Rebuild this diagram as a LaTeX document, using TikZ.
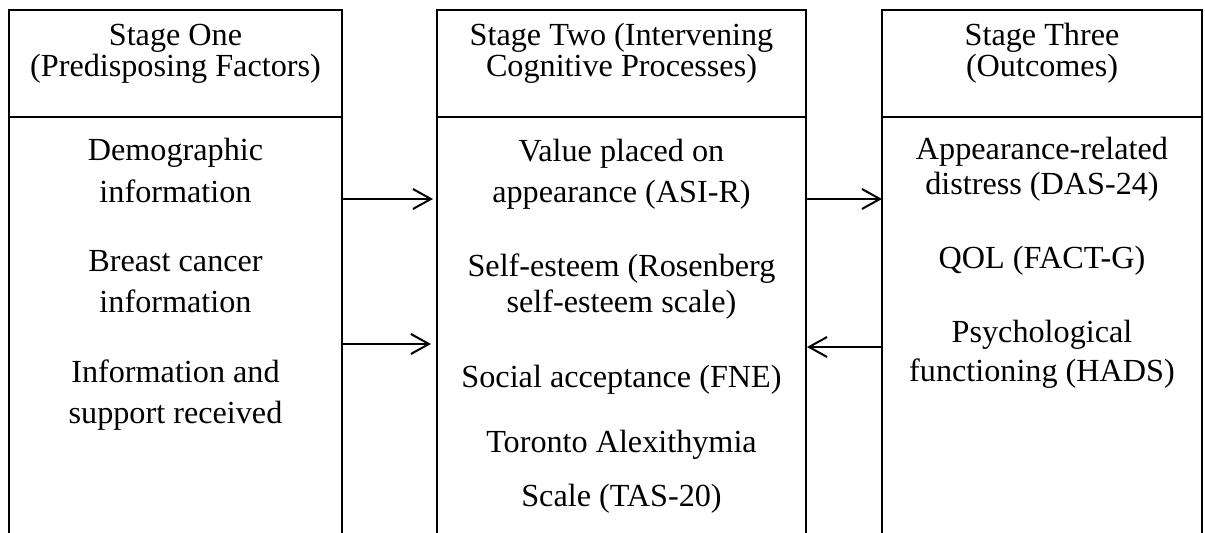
\documentclass[tikz,border=0pt]{standalone}
\usepackage{fontspec}
\setmainfont{Liberation Serif}
\usetikzlibrary{arrows.meta}
\begin{document}
\begin{tikzpicture}[x=0.5pt,y=-0.5pt,
  frame/.style={line width=0.65pt,black},
  txt/.style={anchor=base,inner sep=0pt,font=\fontsize{16.1}{18}\selectfont},
  head/.style={anchor=base,inner sep=0pt,align=center,font=\fontsize{16.1}{14}\selectfont},
  flow/.style={line width=1pt,-{Straight Barb[length=9pt,width=10pt,line width=1pt]}}]
\useasboundingbox (0,0) rectangle (1205,533);

% three open-bottomed columns with a header strip
\coordinate (b1tl) at (9,10);   \coordinate (b1tr) at (342,10);
\coordinate (b2tl) at (437,10); \coordinate (b2tr) at (806,10);
\coordinate (b3tl) at (882,10); \coordinate (b3tr) at (1202,10);
\draw[frame] (9,533) -- (b1tl) -- (b1tr) -- (342,533);
\draw[frame] (437,533) -- (b2tl) -- (b2tr) -- (806,533);
\draw[frame] (882,533) -- (b3tl) -- (b3tr) -- (1202,533);
\draw[frame] (9,117) -- (342,117);
\draw[frame] (437,117) -- (806,117);
\draw[frame] (882,117) -- (1202,117);

% stage one (header anchored at its last baseline)
\node[head] (h1) at (175.5,77) {Stage One\\(Predisposing Factors)};
\node[txt] (s1a) at (175.5,161) {Demographic};
\node[txt] (s1b) at (175.5,203) {information};
\node[txt] (s1c) at (175.5,272) {Breast cancer};
\node[txt] (s1d) at (175.5,313) {information};
\node[txt] (s1e) at (175.5,383) {Information and};
\node[txt] (s1f) at (175.5,424) {support received};

% stage two
\node[head] (h2) at (621.5,77) {Stage Two (Intervening\\Cognitive Processes)};
\node[txt] (s2a) at (621.5,162) {Value placed on};
\node[txt] (s2b) at (621.5,203) {appearance (ASI-R)};
\node[txt] (s2c) at (621.5,277) {Self-esteem (Rosenberg};
\node[txt] (s2d) at (621.5,313) {self-esteem scale)};
\node[txt] (s2e) at (621.5,388) {Social acceptance (FNE)};
\node[txt] (s2f) at (621.5,453) {Toronto Alexithymia};
\node[txt] (s2g) at (621.5,507) {Scale (TAS-20)};

% stage three
\node[head] (h3) at (1042,77) {Stage Three\\(Outcomes)};
\node[txt] (s3a) at (1042,160) {Appearance-related};
\node[txt] (s3b) at (1042,195) {distress (DAS-24)};
\node[txt] (s3c) at (1042,269) {QOL (FACT-G)};
\node[txt] (s3d) at (1042,343) {Psychological};
\node[txt] (s3e) at (1042,382) {functioning (HADS)};

% arrow ends on the column edges
\coordinate (p1) at (342,199); \coordinate (q1) at (433,199);
\coordinate (p2) at (342,344); \coordinate (q2) at (431,344);
\coordinate (p3) at (806,199); \coordinate (q3) at (882,199);
\coordinate (p4) at (882,347); \coordinate (q4) at (807,347);
\draw[flow] (p1) -- (q1);
\draw[flow] (p2) -- (q2);
\draw[flow] (p3) -- (q3);
\draw[flow] (p4) -- (q4);
\end{tikzpicture}
\end{document}
